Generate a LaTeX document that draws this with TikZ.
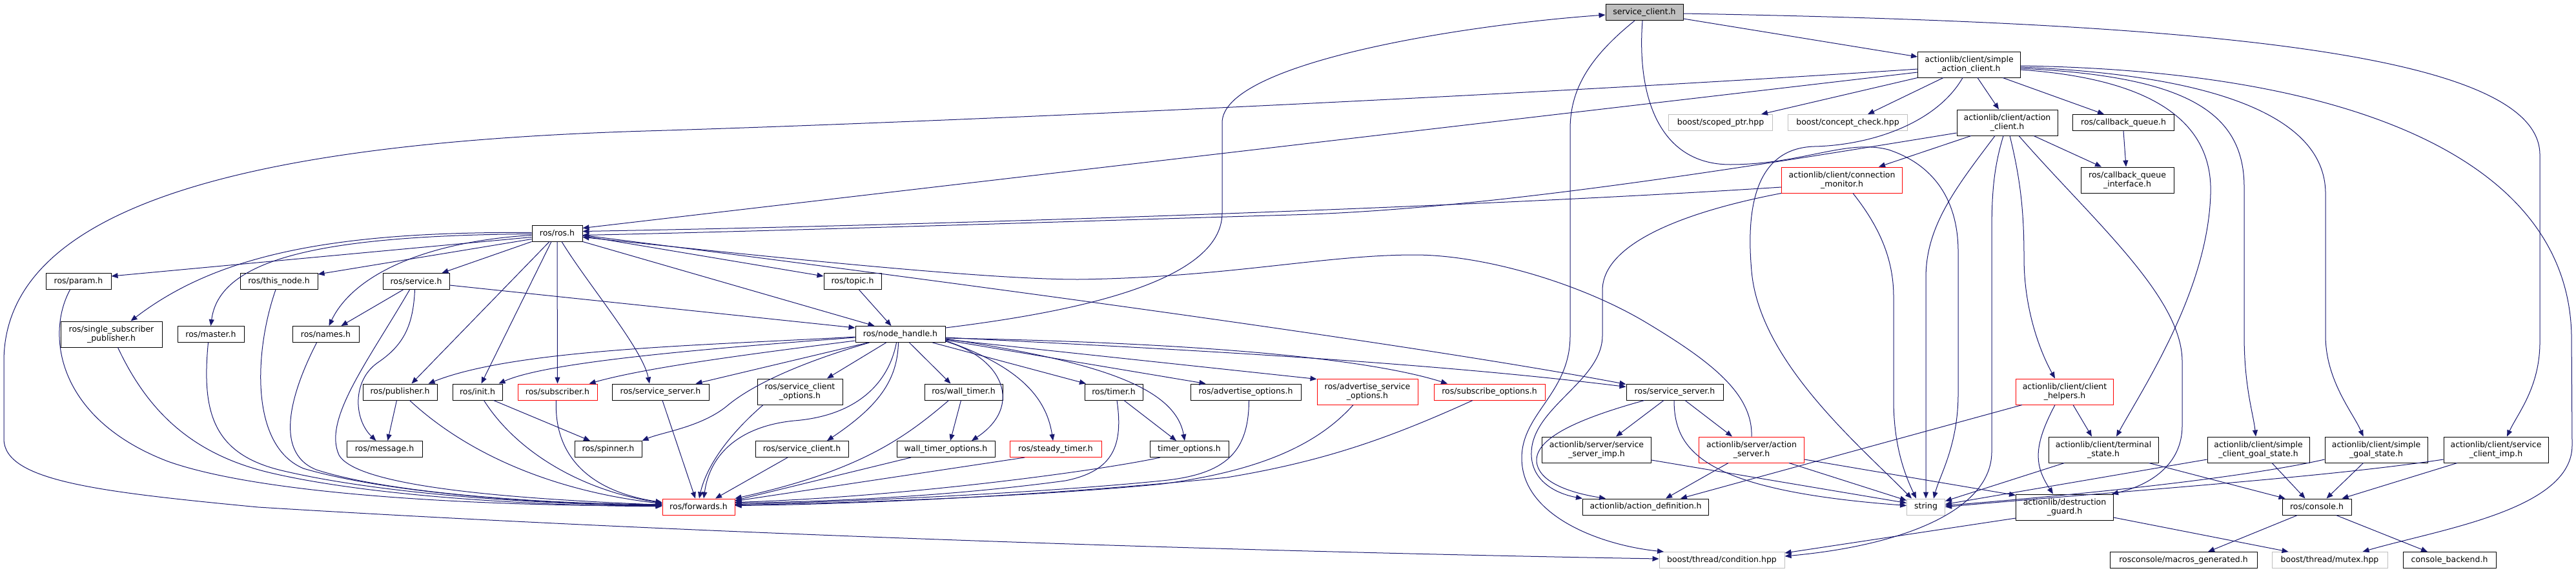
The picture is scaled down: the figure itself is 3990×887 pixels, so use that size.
\documentclass[tikz,border=0pt]{standalone}
\usepackage{fontspec}
\setmainfont{DejaVu Sans}
\usetikzlibrary{arrows.meta}
\definecolor{edgeblue}{HTML}{191970}
\definecolor{boxgray}{HTML}{BFBFBF}
\begin{document}
\begin{tikzpicture}[x=1pt,y=-1pt,
  nbox/.style={draw=black,line width=1pt,inner sep=0pt,align=center,font=\fontsize{12.5pt}{14.3pt}\selectfont,minimum height=25pt},
  twoline/.style={minimum height=40pt},
  nred/.style={nbox,draw=red},
  ngray/.style={nbox,draw=boxgray},
  nroot/.style={nbox,fill=boxgray},
  dep/.style={draw=edgeblue,line width=1pt,-{Triangle[length=10pt,width=8pt]}}
]
\useasboundingbox (0,0) rectangle (3990,887);
% nodes
\node[nroot,minimum width=120pt] (sc) at (2547,19) {service\_client.h};
\node[nbox,twoline,minimum width=159pt] (sac) at (3050,100) {actionlib/client/simple\\\_action\_client.h};
\node[ngray,minimum width=161pt] (scp) at (2665,190) {boost/scoped\_ptr.hpp};
\node[ngray,minimum width=185pt] (cc) at (2862,190) {boost/concept\_check.hpp};
\node[nbox,twoline,minimum width=156pt] (ac) at (3109,190) {actionlib/client/action\\\_client.h};
\node[nbox,minimum width=157pt] (cbq) at (3289,190) {ros/callback\_queue.h};
\node[nbox,twoline,minimum width=144pt] (cbqi) at (3295,279) {ros/callback\_queue\\\_interface.h};
\node[nred,twoline,minimum width=187pt] (cm) at (2853,279) {actionlib/client/connection\\\_monitor.h};
\node[nbox,minimum width=78pt] (rh) at (863,361.5) {ros/ros.h};
\node[nbox,minimum width=101pt] (param) at (121.5,436) {ros/param.h};
\node[nbox,minimum width=120pt] (tn) at (432,436) {ros/this\_node.h};
\node[nbox,minimum width=103pt] (svc) at (644.5,436) {ros/service.h};
\node[nbox,minimum width=89pt] (topic) at (1320.5,436) {ros/topic.h};
\node[nbox,twoline,minimum width=157pt] (ssp) at (172.5,518) {ros/single\_subscriber\\\_publisher.h};
\node[nbox,minimum width=103pt] (master) at (326.5,518) {ros/master.h};
\node[nbox,minimum width=103pt] (names) at (504.5,518) {ros/names.h};
\node[nbox,minimum width=139pt] (nh) at (1394.5,518) {ros/node\_handle.h};
\node[nbox,minimum width=115pt] (pub) at (619.5,607.5) {ros/publisher.h};
\node[nbox,minimum width=77pt] (init) at (739.5,607.5) {ros/init.h};
\node[nred,minimum width=123pt] (sub) at (863.5,607.5) {ros/subscriber.h};
\node[nbox,minimum width=150pt] (ss1) at (1023,607.5) {ros/service\_server.h};
\node[nbox,twoline,minimum width=132pt] (scopt) at (1239,607) {ros/service\_client\\\_options.h};
\node[nbox,minimum width=121pt] (wt) at (1492.5,607.5) {ros/wall\_timer.h};
\node[nbox,minimum width=90pt] (timer) at (1725,607.5) {ros/timer.h};
\node[nbox,minimum width=171pt] (ao) at (1929.5,607.5) {ros/advertise\_options.h};
\node[nred,twoline,minimum width=156pt] (aso) at (2118,607) {ros/advertise\_service\\\_options.h};
\node[nred,minimum width=172pt] (so) at (2307,607.5) {ros/subscribe\_options.h};
\node[nbox,minimum width=150pt] (ss2) at (2594,607.5) {ros/service\_server.h};
\node[nred,twoline,minimum width=151pt] (ch) at (3198,607) {actionlib/client/client\\\_helpers.h};
\node[nbox,minimum width=117pt] (msg) at (595.5,696) {ros/message.h};
\node[nbox,minimum width=104pt] (spin) at (942,696) {ros/spinner.h};
\node[nbox,minimum width=144pt] (rsc) at (1242,696) {ros/service\_client.h};
\node[nbox,minimum width=152pt] (wto) at (1465,696) {wall\_timer\_options.h};
\node[nred,minimum width=142pt] (st) at (1635,696) {ros/steady\_timer.h};
\node[nbox,minimum width=122pt] (to) at (1842,696) {timer\_options.h};
\node[nbox,twoline,minimum width=169pt] (ssi) at (2473,697) {actionlib/server/service\\\_server\_imp.h};
\node[nred,twoline,minimum width=163pt] (as) at (2713,697) {actionlib/server/action\\\_server.h};
\node[nbox,twoline,minimum width=170pt] (ts) at (3258,697) {actionlib/client/terminal\\\_state.h};
\node[nbox,twoline,minimum width=158pt] (scgs) at (3498,697) {actionlib/client/simple\\\_client\_goal\_state.h};
\node[nbox,twoline,minimum width=159pt] (sgs) at (3680.5,697) {actionlib/client/simple\\\_goal\_state.h};
\node[nbox,twoline,minimum width=162pt] (sci) at (3866,697) {actionlib/client/service\\\_client\_imp.h};
\node[nred,minimum width=112pt] (fw) at (1082,785.5) {ros/forwards.h};
\node[nbox,minimum width=195pt] (ad) at (2549,785.5) {actionlib/action\_definition.h};
\node[ngray,minimum width=59pt] (str) at (2983,785.5) {string};
\node[nbox,twoline,minimum width=151pt] (dg) at (3198,786) {actionlib/destruction\\\_guard.h};
\node[nbox,minimum width=107pt] (con) at (3588.5,785.5) {ros/console.h};
\node[ngray,minimum width=194pt] (cond) at (2667,868) {boost/thread/condition.hpp};
\node[nbox,minimum width=228pt] (mg) at (3382,868) {rosconsole/macros\_generated.h};
\node[ngray,minimum width=179pt] (mutex) at (3608.5,868) {boost/thread/mutex.hpp};
\node[nbox,minimum width=144pt] (cb) at (3794,868) {console\_backend.h};
% edges: top part
\draw[dep] ([yshift=10pt]nh.east) .. controls (1650,485) and (1893,440) .. (1893,330) -- (1893,190) .. controls (1893,100) and (2250,40) .. ([yshift=-4pt]sc.west);
\draw[dep] ([yshift=-10pt]sc.east) -- ([yshift=12pt]sac.west);
\draw[dep] ([yshift=-2pt]sc.east) .. controls (3400,35) and (3934,80) .. (3934,240) -- (3934,530) .. controls (3934,600) and (3900,640) .. ([xshift=17pt]sci.north);
\draw[dep] ([xshift=-3pt]sc.south) .. controls (2535,150) and (2570,255) .. (2680,255) .. controls (2790,255) and (2860,215) .. (2925,232) .. controls (2995,255) and (3033,310) .. (3033,390) -- (3033,610) .. controls (3033,690) and (3005,735) .. ([xshift=12pt]str.north);
\draw[dep] ([xshift=-15pt]sc.south) .. controls (2460,90) and (2432,140) .. (2432,200) -- (2432,520) .. controls (2432,610) and (2357,640) .. (2357,710) .. controls (2357,800) and (2480,845) .. ([xshift=-90pt]cond.north);
\draw[dep] (cm.south west) .. controls (2600,330) and (2482,380) .. (2482,450) -- (2482,520) .. controls (2482,590) and (2375,630) .. (2372,700) .. controls (2370,745) and (2410,765) .. (ad.north west);
\draw[dep] ([xshift=-47pt]ss2.south) .. controls (2440,650) and (2378,680) .. (2380,715) .. controls (2383,750) and (2440,765) .. ([xshift=-62pt]ad.north);
\draw[dep] ([xshift=17pt]cm.south) .. controls (2910,350) and (2933,400) .. (2933,460) -- (2933,620) .. controls (2933,690) and (2950,735) .. ([xshift=-15pt]str.north);
\draw[dep] ([yshift=-11pt]cm.west) .. controls (2300,320) and (1500,348) .. ([yshift=3pt]rh.east);
\draw[dep] ([yshift=-16pt]ac.west) .. controls (2700,260) and (2300,325) .. (2000,333) .. controls (1600,345) and (1200,358) .. ([yshift=-3pt]rh.east);
\draw[dep] ([yshift=-12pt]sac.west) -- ([yshift=8pt]rh.east);
\draw[dep] ([yshift=-7pt]sac.west) .. controls (2400,145) and (1500,188) .. (1000,203) .. controls (450,220) and (6,300) .. (6,560) -- (6,680) .. controls (6,745) and (150,762) .. (400,786) .. controls (1200,835) and (2100,858) .. ([yshift=2pt]cond.west);
\draw[dep] (sac.south west) -- ([xshift=-18pt]scp.north east);
\draw[dep] ([xshift=-40pt]sac.south) -- ([xshift=31pt]cc.north);
\draw[dep] ([xshift=13pt]sac.south) -- ([xshift=-13pt]ac.north);
\draw[dep] ([xshift=52pt]sac.south) -- ([xshift=-30pt]cbq.north);
\draw[dep] ([xshift=-10pt]sac.south) .. controls (3000,190) and (2900,225) .. (2810,227) .. controls (2715,230) and (2705,330) .. (2713,420) .. controls (2725,560) and (2880,690) .. ([xshift=-22pt]str.north);
\draw[dep] ([xshift=41pt]ac.south) -- ([xshift=-40pt]cbqi.north);
\draw[dep] (cbq.south) -- ([xshift=-2pt]cbqi.north);
\draw[dep] ([xshift=-56pt]ac.south) -- ([xshift=57pt]cm.north);
\draw[dep] ([xshift=-19pt]ac.south) .. controls (3030,290) and (2983,350) .. (2983,430) -- (str.north);
\draw[dep] ([xshift=-6pt]ac.south) .. controls (3088,260) and (3085,300) .. (3085,360) -- (3085,700) .. controls (3085,790) and (2950,845) .. ([yshift=6pt]cond.east);
\draw[dep] ([xshift=4pt]ac.south) .. controls (3130,280) and (3135,330) .. (3135,400) .. controls (3135,480) and (3160,545) .. ([xshift=-15pt]ch.north);
\draw[dep] ([xshift=18pt]ac.south) .. controls (3240,340) and (3380,460) .. (3380,560) -- (3380,660) .. controls (3380,720) and (3330,752) .. ([xshift=-3pt]dg.north east);
\draw[dep] ([yshift=-8pt]sac.east) .. controls (3300,120) and (3428,170) .. (3424,300) .. controls (3420,450) and (3320,600) .. ([xshift=20pt]ts.north);
\draw[dep] ([yshift=-6pt]sac.east) .. controls (3380,118) and (3476,170) .. (3476,290) -- (3476,520) .. controls (3476,600) and (3490,640) .. ([xshift=-4pt]scgs.north);
\draw[dep] ([yshift=-4pt]sac.east) .. controls (3400,115) and (3602,170) .. (3602,300) -- (3602,520) .. controls (3602,590) and (3645,640) .. ([xshift=-20pt]sgs.north);
\draw[dep] ([yshift=-2pt]sac.east) .. controls (3650,110) and (3978,250) .. (3983,520) -- (3984,690) .. controls (3984,790) and (3780,820) .. ([xshift=51pt]mutex.north);
% right lower part
\draw[dep] ([xshift=10pt]ch.south west) -- ([xshift=54pt]ad.north);
\draw[dep] ([xshift=-15pt]ch.south) .. controls (3150,690) and (3150,720) .. ([xshift=-18pt]dg.north);
\draw[dep] ([xshift=13pt]ch.south) -- ([xshift=-18pt]ts.north);
\draw[dep] ([xshift=25pt]ts.south west) -- ([yshift=9pt]str.east);
\draw[dep] ([xshift=-15pt]ts.south east) -- ([xshift=5pt]con.north west);
\draw[dep] ([yshift=-15pt]scgs.west) -- ([yshift=4pt]str.east);
\draw[dep] ([xshift=21pt]scgs.south) -- ([xshift=-18pt]con.north);
\draw[dep] ([yshift=-15pt]sgs.west) .. controls (3500,735) and (3300,760) .. ([yshift=2pt]str.east);
\draw[dep] ([xshift=-20pt]sgs.south) -- ([xshift=15pt]con.north);
\draw[dep] ([yshift=-15pt]sci.west) .. controls (3600,740) and (3300,760) .. (str.east);
\draw[dep] ([xshift=-60pt]sci.south) -- ([xshift=-15pt]con.north east);
\draw[dep] ([xshift=-30pt]con.south) -- ([xshift=38pt]mg.north);
\draw[dep] ([xshift=30pt]con.south) -- ([xshift=-34pt]cb.north);
\draw[dep] ([yshift=-17pt]dg.west) -- ([yshift=11pt]cond.east);
\draw[dep] ([yshift=-16pt]dg.east) -- ([xshift=-64pt]mutex.north);
\draw[dep] ([yshift=-15pt]as.east) -- ([yshift=-2pt]dg.north west);
\draw[dep] ([xshift=-24pt]as.south east) -- ([yshift=10pt]str.west);
\draw[dep] ([xshift=-36pt]as.south) -- ([xshift=31pt]ad.north);
\draw[dep] ([yshift=-16pt]ssi.east) -- ([yshift=6pt]str.west);
\draw[dep] ([xshift=-1pt]ss2.south) .. controls (2593,700) and (2640,760) .. ([yshift=2pt]str.west);
\draw[dep] ([xshift=-17pt]ss2.south) -- ([xshift=30pt]ssi.north);
\draw[dep] ([xshift=16pt]ss2.south) -- ([xshift=-30pt]as.north);
\draw[dep] (as.north) .. controls (2715,610) and (2650,560) .. (2550,500) .. controls (2450,440) and (2300,395) .. (2191,395) .. controls (2050,395) and (1900,430) .. (1670,433) .. controls (1550,433) and (1300,410) .. ([yshift=-6pt]rh.east);
% ros.h outgoing
\draw[dep] ([yshift=-6pt]rh.west) -- ([yshift=8pt]param.east);
\draw[dep] ([yshift=-9pt]rh.west) -- ([yshift=-2pt]tn.north east);
\draw[dep] (rh.south west) -- ([xshift=40pt]svc.north);
\draw[dep] ([yshift=1pt]rh.west) .. controls (500,358) and (330,400) .. ([xshift=30pt]ssp.north);
\draw[dep] ([yshift=-1pt]rh.west) .. controls (500,365) and (340,400) .. (master.north);
\draw[dep] ([yshift=-3pt]rh.west) .. controls (650,375) and (545,430) .. ([xshift=5pt]names.north);
\draw[dep] ([xshift=-12pt]rh.south) -- ([xshift=18pt]pub.north);
\draw[dep] ([xshift=-9pt]rh.south) -- ([xshift=6pt]init.north);
\draw[dep] (rh.south) -- (sub.north);
\draw[dep] ([xshift=7pt]rh.south) .. controls (910,440) and (995,540) .. ([xshift=-17pt]ss1.north);
\draw[dep] (rh.south east) -- ([xshift=-40pt]nh.north);
\draw[dep] ([yshift=-4pt]rh.east) -- ([yshift=8pt]topic.west);
\draw[dep] ([yshift=-3pt]rh.east) .. controls (1500,440) and (2200,535) .. ([yshift=12pt]ss2.west);
\draw[dep] ([xshift=10pt]topic.south) -- ([xshift=-14pt]nh.north);
% service.h
\draw[dep] ([xshift=-20pt]svc.south) -- ([xshift=24pt]names.north);
\draw[dep] ([yshift=-6pt]svc.east) -- ([yshift=10pt]nh.west);
\draw[dep] ([xshift=-2pt]svc.south) .. controls (640,505) and (625,535) .. (585,562) .. controls (545,590) and (548,650) .. ([xshift=-13pt]msg.north);
\draw[dep] ([xshift=-10pt]svc.south) .. controls (570,560) and (500,650) .. (525,705) .. controls (555,760) and (850,775) .. ([yshift=3pt]fw.west);
% into forwards from left
\draw[dep] ([xshift=-13pt]param.south) .. controls (70,520) and (90,650) .. (260,715) .. controls (420,772) and (800,785) .. ([yshift=2pt]fw.west);
\draw[dep] ([xshift=10pt]ssp.south) .. controls (230,640) and (300,705) .. (420,733) .. controls (600,775) and (900,785) .. ([yshift=1pt]fw.west);
\draw[dep] ([xshift=-4pt]master.south) .. controls (312,640) and (330,705) .. (440,730) .. controls (620,772) and (900,783) .. ([yshift=2pt]fw.west);
\draw[dep] ([xshift=-5pt]tn.south) .. controls (395,540) and (385,690) .. (470,726) .. controls (620,770) and (900,783) .. ([yshift=3pt]fw.west);
\draw[dep] ([xshift=-14pt]names.south) .. controls (455,600) and (420,700) .. (490,728) .. controls (620,770) and (900,782) .. ([yshift=4pt]fw.west);
\draw[dep] ([xshift=15pt]pub.south) .. controls (720,700) and (850,760) .. ([yshift=5pt]fw.west);
\draw[dep] ([xshift=-5pt]pub.south) -- ([xshift=5pt]msg.north);
\draw[dep] ([xshift=25pt]init.south) -- ([xshift=-28pt]spin.north);
\draw[dep] ([xshift=10pt]init.south) .. controls (800,700) and (900,760) .. ([yshift=6pt]fw.west);
\draw[dep] ([xshift=-2pt]sub.south) .. controls (858,700) and (905,760) .. ([yshift=7pt]fw.west);
% node_handle outgoing
\draw[dep] ([yshift=-4pt]nh.west) .. controls (1100,535) and (800,540) .. ([xshift=-14pt]pub.north east);
\draw[dep] ([yshift=-5pt]nh.west) .. controls (1100,540) and (850,560) .. ([xshift=-6pt]init.north east);
\draw[dep] ([yshift=-10pt]nh.west) .. controls (1150,550) and (1000,570) .. ([xshift=-13pt]sub.north east);
\draw[dep] ([xshift=-50pt]nh.south) -- ([xshift=-21pt]ss1.north east);
\draw[dep] ([xshift=-48pt]nh.south) .. controls (1230,565) and (1160,600) .. (1125,630) .. controls (1085,662) and (1025,670) .. (spin.north east);
\draw[dep] ([xshift=-22pt]nh.south) -- ([xshift=42pt]scopt.north);
\draw[dep] ([xshift=-6pt]nh.south) .. controls (1375,600) and (1320,645) .. (1230,652) .. controls (1150,660) and (1100,700) .. ([xshift=8pt]fw.north);
\draw[dep] ([xshift=-3pt]nh.south) .. controls (1390,590) and (1360,630) .. ([xshift=39pt]rsc.north);
\draw[dep] ([xshift=14pt]nh.south) -- ([xshift=-20pt]wt.north);
\draw[dep] ([yshift=-11pt]nh.east) .. controls (1555,555) and (1585,630) .. ([xshift=40pt]wto.north);
\draw[dep] ([yshift=-10pt]nh.east) .. controls (1570,565) and (1620,610) .. ([xshift=-4pt]st.north);
\draw[dep] ([xshift=50pt]nh.south) -- ([xshift=-43pt]timer.north);
\draw[dep] ([yshift=-7pt]nh.east) .. controls (1700,560) and (1820,600) .. ([xshift=-7pt]to.north);
\draw[dep] ([yshift=-9pt]nh.east) -- ([xshift=-62pt]ao.north);
\draw[dep] ([yshift=-8pt]nh.east) -- ([yshift=-1pt]aso.north west);
\draw[dep] ([yshift=-6pt]nh.east) .. controls (1800,530) and (2100,550) .. ([xshift=-65pt]so.north);
\draw[dep] ([yshift=-5pt]nh.east) .. controls (1800,540) and (2200,560) .. ([yshift=8pt]ss2.west);
% into forwards from above / right
\draw[dep] ([xshift=3pt]ss1.south) -- ([xshift=-5pt]fw.north);
\draw[dep] ([xshift=-57pt]scopt.south) .. controls (1110,690) and (1090,740) .. ([xshift=1pt]fw.north);
\draw[dep] ([xshift=-22pt]rsc.south) -- ([xshift=26pt]fw.north);
\draw[dep] ([xshift=-4pt]wt.south) -- ([xshift=7pt]wto.north);
\draw[dep] ([xshift=-23pt]wt.south) .. controls (1400,680) and (1330,730) .. (fw.north east);
\draw[dep] ([xshift=-54pt]wto.south) -- ([yshift=10pt]fw.east);
\draw[dep] ([xshift=-48pt]st.south) -- ([yshift=9pt]fw.east);
\draw[dep] ([xshift=16pt]timer.south) -- ([xshift=-20pt]to.north);
\draw[dep] ([xshift=5pt]timer.south) .. controls (1740,690) and (1725,730) .. (1650,745) .. controls (1450,772) and (1250,778) .. ([yshift=6pt]fw.east);
\draw[dep] ([xshift=-45pt]to.south) .. controls (1700,730) and (1400,770) .. ([yshift=7pt]fw.east);
\draw[dep] ([xshift=5pt]ao.south) .. controls (1934,700) and (1900,735) .. (1800,745) .. controls (1600,765) and (1300,778) .. ([yshift=4pt]fw.east);
\draw[dep] ([xshift=-22pt]aso.south) .. controls (2040,690) and (1950,730) .. (1800,750) .. controls (1600,770) and (1300,780) .. ([yshift=3pt]fw.east);
\draw[dep] ([xshift=-26pt]so.south) .. controls (2150,680) and (2050,715) .. (1900,740) .. controls (1600,770) and (1300,782) .. ([yshift=2pt]fw.east);
\end{tikzpicture}
\end{document}
